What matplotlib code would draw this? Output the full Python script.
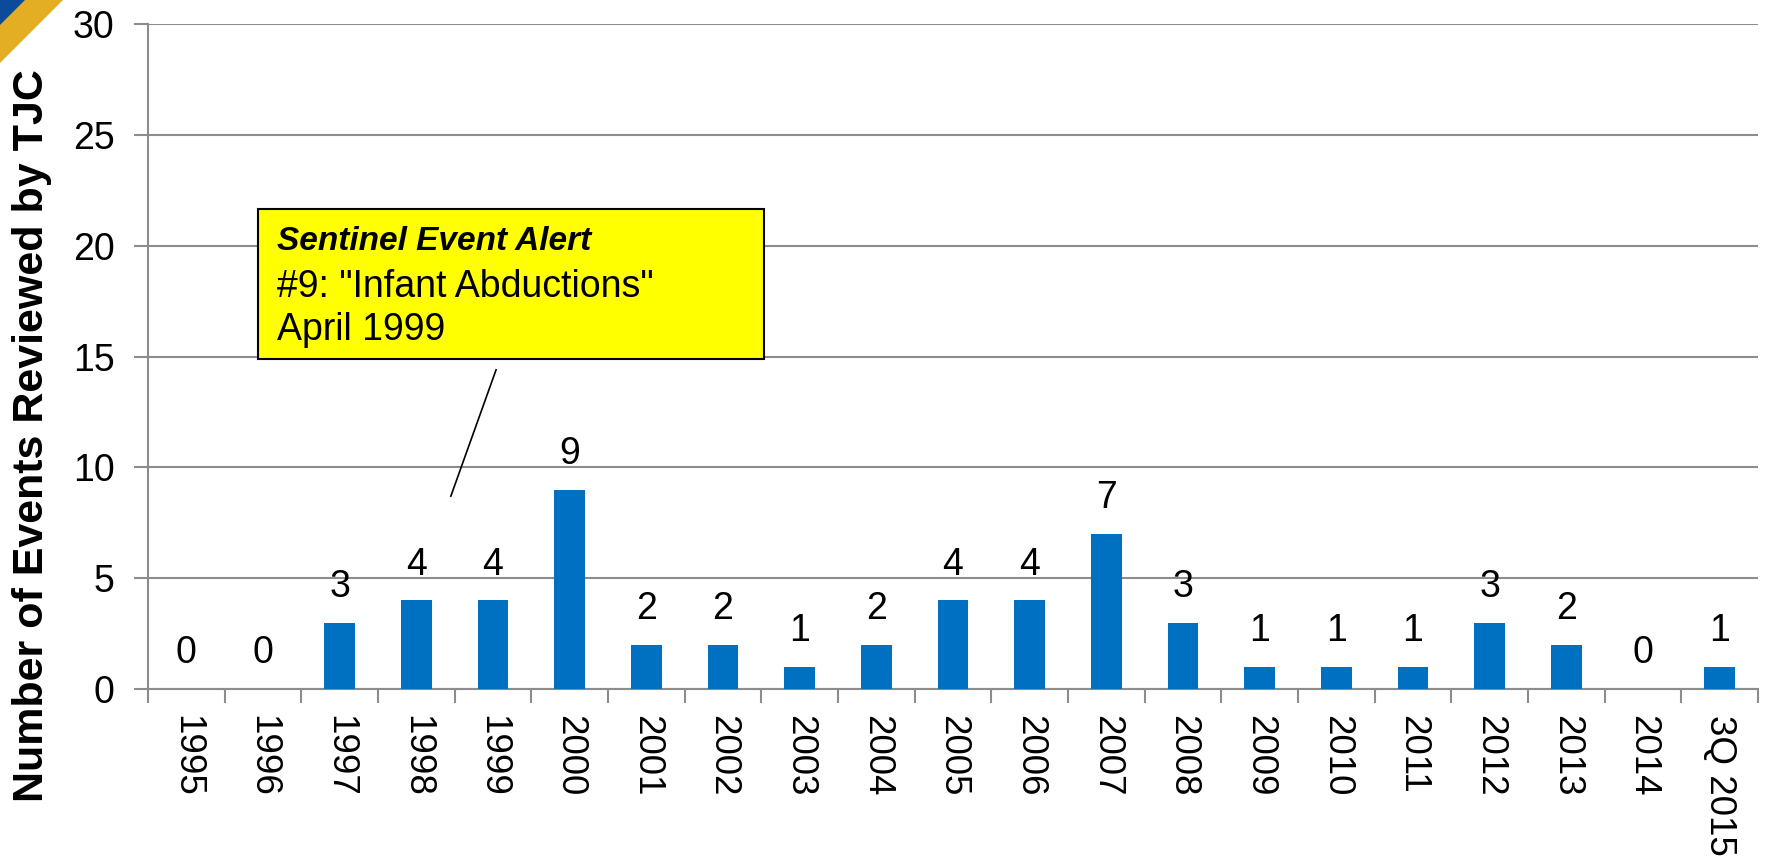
import matplotlib
matplotlib.use("Agg")
import matplotlib.pyplot as plt
from matplotlib.patches import Polygon, Rectangle
import numpy as np

plt.rcParams['font.family'] = ['Liberation Sans', 'DejaVu Sans']

categories = ["1995", "1996", "1997", "1998", "1999", "2000", "2001", "2002",
              "2003", "2004", "2005", "2006", "2007", "2008", "2009", "2010",
              "2011", "2012", "2013", "2014", "3Q 2015"]
values = [0, 0, 3, 4, 4, 9, 2, 2, 1, 2, 4, 4, 7, 3, 1, 1, 1, 3, 2, 0, 1]
y_ticks = [0, 5, 10, 15, 20, 25, 30]

fig = plt.figure(figsize=(17.66, 8.57), dpi=100)
ax = fig.add_axes([0.0838, 0.196, 0.9117, 0.776])

x = np.arange(len(categories))
ax.bar(x, values, width=0.4, color="#0070C0", zorder=3)
for xi, v in zip(x, values):
    ax.text(xi, v + 0.8, str(v), ha="center", va="bottom", fontsize=27, color="black")

ax.set_xlim(-0.5, len(categories) - 0.5)
ax.set_ylim(0, 30)
ax.set_yticks(y_ticks)
ax.set_yticklabels([str(t) for t in y_ticks], fontsize=27)
ax.yaxis.grid(True, color="#8c8c8c", linewidth=1.5, zorder=0)
ax.set_axisbelow(True)

ax.set_xticks(x)
ax.set_xticklabels(categories, rotation=270, fontsize=26.5, va="top", ha="center")
ax.set_xticks(np.arange(-0.5, len(categories), 1.0), minor=True)
ax.tick_params(axis="x", which="major", length=0, pad=19)
ax.tick_params(axis="x", which="minor", length=10, width=1.5, color="#8c8c8c")
ax.tick_params(axis="y", length=10, width=1.5, color="#8c8c8c", pad=14)

for s in ["top", "right"]:
    ax.spines[s].set_visible(False)
for s in ["left", "bottom"]:
    ax.spines[s].set_color("#8c8c8c")
    ax.spines[s].set_linewidth(1.5)

fig.text(0.018, 0.492, "Number of Events Reviewed by TJC", fontsize=31,
         fontweight="bold", rotation=90, ha="center", va="center")

# annotation box
ax.add_patch(Rectangle((0.93, 14.9), 6.6, 6.75, facecolor="#FFFF00",
                       edgecolor="black", linewidth=1.5, zorder=5, clip_on=False))
ax.text(1.18, 20.17, "Sentinel Event Alert", fontsize=24, fontweight="bold",
        fontstyle="italic", ha="left", va="center", zorder=6)
ax.text(1.18, 18.14, "#9: \"Infant Abductions\"", fontsize=27,
        ha="left", va="center", zorder=6)
ax.text(1.18, 16.2, "April 1999", fontsize=27,
        ha="left", va="center", zorder=6)
ax.plot([4.04, 3.45], [14.4, 8.7], color="black", linewidth=1.2, zorder=4)

# corner decoration
fig.patches.append(Polygon([[0, 1 - 63 / 857], [0, 1], [63 / 1766, 1]], closed=True,
                           transform=fig.transFigure, facecolor="#E3AE24", edgecolor="none"))
fig.patches.append(Polygon([[0, 1 - 25 / 857], [0, 1], [25 / 1766, 1]], closed=True,
                           transform=fig.transFigure, facecolor="#0B4C9A", edgecolor="none"))

fig.savefig("out.png", dpi=100)
